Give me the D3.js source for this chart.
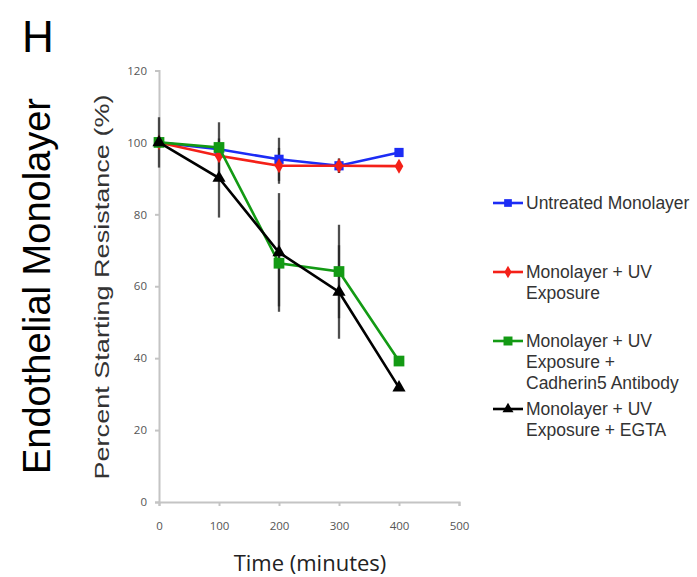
<!DOCTYPE html>
<html>
<head>
<meta charset="utf-8">
<script src="https://cdn.jsdelivr.net/npm/d3@7"></script>
<style>
  body { margin: 0; background: #fff; }
  svg { display: block; }
</style>
</head>
<body>
<div id="chart"></div>
<script>
// Endothelial monolayer resistance over time

// ---- Data ----
const times = [0, 100, 200, 300, 400];
const untreated = [100, 98.1, 95.3, 93.5, 97.2];
const uv = [100, 96.3, 93.5, 93.5, 93.4];
const cadherin = [100, 98.6, 66.4, 64.1, 39.2];
const egta = [100, 90.1, 69.4, 58.4, 31.8];

const untreatedErr = [0, 0, 6, 2, 0];
const uvErr = [0, 0, 5, 2, 0];
const cadherinErr = [0, 7, 12, 13, 0];
const egtaErr = [7, 11, 16.5, 13, 0];

const xTicks = [0, 100, 200, 300, 400, 500];
const yTicks = [0, 20, 40, 60, 80, 100, 120];

const seriesNames = [
  ["Untreated Monolayer"],
  ["Monolayer + UV", "Exposure"],
  ["Monolayer + UV", "Exposure +", "Cadherin5 Antibody"],
  ["Monolayer + UV", "Exposure + EGTA"]
];

const series = [
  { values: untreated, err: untreatedErr, color: "#1c2cf5", symbol: d3.symbolSquare, size: 85, legendY: 203 },
  { values: uv, err: uvErr, color: "#f42018", symbol: d3.symbolDiamond, size: 65, legendY: 272 },
  { values: cadherin, err: cadherinErr, color: "#139a14", symbol: d3.symbolSquare, size: 115, legendY: 341 },
  { values: egta, err: egtaErr, color: "#000000", symbol: d3.symbolTriangle, size: 75, legendY: 409 }
];
series.forEach((s, i) => { s.name = seriesNames[i]; });

// ---- Layout / scales ----
const W = 697, H = 577;
const svg = d3.select("#chart").append("svg").attr("width", W).attr("height", H);

const x = d3.scaleLinear().domain([0, 500]).range([159, 459]);
const y = d3.scaleLinear().domain([0, 120]).range([502, 70.5]);

const tickFont = "'Open Sans', 'Liberation Sans', sans-serif";
const axisColor = "#c4c4c4";

// y axis
const yAxis = svg.append("g")
  .attr("transform", `translate(${x(0)},0)`)
  .call(d3.axisLeft(y).tickValues(yTicks).tickSize(4).tickPadding(8));
// x axis
const xAxis = svg.append("g")
  .attr("transform", `translate(0,${y(0)})`)
  .call(d3.axisBottom(x).tickValues(xTicks).tickSize(4).tickPadding(16));

[yAxis, xAxis].forEach(a => {
  a.select(".domain").attr("stroke", axisColor).attr("stroke-width", 2);
  a.selectAll(".tick line").attr("stroke", axisColor).attr("stroke-width", 2);
  a.selectAll(".tick text")
    .style("font-family", tickFont).style("font-size", "11.5px").attr("fill", "#555");
});

// error bars
series.forEach(s => {
  svg.append("g").selectAll("line")
    .data(times.map((t, i) => ({ t, v: s.values[i], e: s.err[i] })).filter(d => d.e > 0))
    .enter().append("line")
    .attr("x1", d => x(d.t)).attr("x2", d => x(d.t))
    .attr("y1", d => y(d.v - d.e)).attr("y2", d => y(d.v + d.e))
    .attr("stroke", "#222").attr("stroke-opacity", 0.8).attr("stroke-width", 2.3);
});

// lines and markers
const line = d3.line().x((d, i) => x(times[i])).y(d => y(d));
series.forEach(s => {
  svg.append("path")
    .datum(s.values)
    .attr("d", line)
    .attr("fill", "none")
    .attr("stroke", s.color)
    .attr("stroke-width", 2.6);
  svg.append("g").selectAll("path")
    .data(s.values)
    .enter().append("path")
    .attr("transform", (d, i) => `translate(${x(times[i])},${y(d)})`)
    .attr("d", d3.symbol().type(s.symbol).size(s.size))
    .attr("fill", s.color);
});

// legend
const legend = svg.append("g");
series.forEach(s => {
  const g = legend.append("g").attr("transform", `translate(0,${s.legendY})`);
  g.append("line").attr("x1", 493).attr("x2", 523).attr("y1", 0).attr("y2", 0)
    .attr("stroke", s.color).attr("stroke-width", 2.6);
  g.append("path").attr("transform", "translate(508,0)")
    .attr("d", d3.symbol().type(s.symbol).size(s.size * 0.7)).attr("fill", s.color);
  s.name.forEach((t, i) => {
    g.append("text")
      .attr("x", 526).attr("y", 6 + i * 21)
      .style("font-family", "'Liberation Sans', Arial, sans-serif")
      .style("font-size", "17.5px")
      .attr("fill", "#333")
      .text(t);
  });
});

// axis titles
svg.append("text")
  .attr("x", 310).attr("y", 571)
  .attr("text-anchor", "middle")
  .style("font-family", tickFont).style("font-size", "22px")
  .attr("fill", "#222")
  .text("Time (minutes)");

svg.append("text")
  .attr("transform", "translate(109,287) rotate(-90)")
  .attr("text-anchor", "middle")
  .attr("textLength", 385).attr("lengthAdjust", "spacingAndGlyphs")
  .style("font-family", "'Liberation Sans', Arial, sans-serif").style("font-size", "21px")
  .attr("fill", "#333")
  .text("Percent Starting Resistance (%)");

svg.append("text")
  .attr("transform", "translate(50,286) rotate(-90)")
  .attr("text-anchor", "middle")
  .style("font-family", "'Liberation Sans', Arial, sans-serif").style("font-size", "38px")
  .attr("fill", "#000")
  .text("Endothelial Monolayer");

svg.append("text")
  .attr("x", 22).attr("y", 52)
  .style("font-family", "'Liberation Sans', Arial, sans-serif").style("font-size", "44px")
  .attr("fill", "#000")
  .text("H");
</script>
</body>
</html>
